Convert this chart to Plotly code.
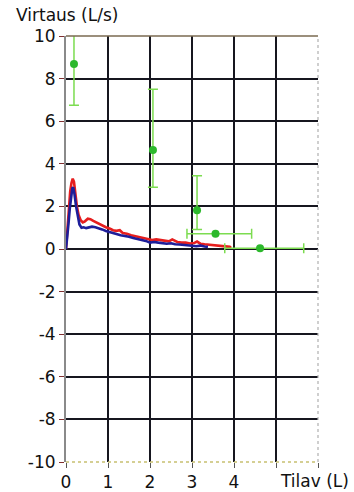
import plotly.graph_objects as go

# Measured flow-volume curves
red_x = [0.00, 0.02, 0.04, 0.07, 0.10, 0.13, 0.16, 0.19, 0.22, 0.26, 0.30, 0.35, 0.40, 0.45, 0.52,
         0.58, 0.65, 0.72, 0.80, 0.88, 0.95, 1.05, 1.12, 1.20, 1.28, 1.35, 1.45, 1.55, 1.65, 1.75,
         1.85, 1.95, 2.05, 2.15, 2.25, 2.35, 2.45, 2.53, 2.65, 2.75, 2.85, 2.95, 3.05, 3.12, 3.20,
         3.30, 3.40, 3.50, 3.60, 3.70, 3.80, 3.90, 3.93]
red_y = [0.00, 0.60, 1.40, 2.10, 2.70, 3.10, 3.30, 3.15, 2.60, 2.00, 1.60, 1.35, 1.25, 1.30, 1.42,
         1.40, 1.32, 1.25, 1.18, 1.08, 1.02, 0.95, 0.88, 0.85, 0.88, 0.75, 0.72, 0.65, 0.60, 0.55,
         0.50, 0.45, 0.42, 0.45, 0.42, 0.40, 0.36, 0.45, 0.33, 0.30, 0.30, 0.26, 0.28, 0.35, 0.25,
         0.22, 0.20, 0.18, 0.15, 0.14, 0.12, 0.10, 0.05]

blue_x = [0.00, 0.03, 0.06, 0.09, 0.12, 0.15, 0.17, 0.20, 0.24, 0.28, 0.32, 0.37, 0.42, 0.48, 0.55,
          0.62, 0.70, 0.78, 0.86, 0.95, 1.05, 1.12, 1.20, 1.30, 1.40, 1.50, 1.60, 1.70, 1.80, 1.90,
          2.00, 2.10, 2.20, 2.30, 2.40, 2.50, 2.60, 2.70, 2.80, 2.90, 3.00, 3.10, 3.20, 3.30, 3.38]
blue_y = [0.00, 0.50, 1.20, 1.90, 2.50, 2.85, 2.90, 2.60, 2.00, 1.50, 1.15, 1.00, 1.02, 0.98, 1.00,
          1.05, 1.02, 0.98, 0.92, 0.85, 0.78, 0.72, 0.70, 0.65, 0.62, 0.58, 0.52, 0.48, 0.42, 0.38,
          0.30, 0.33, 0.30, 0.28, 0.25, 0.27, 0.22, 0.21, 0.20, 0.18, 0.15, 0.13, 0.16, 0.12, 0.10]

# Reference points with error bars
ref_x = [0.19, 2.07, 3.12, 3.56, 4.62]
ref_y = [8.68, 4.65, 1.82, 0.72, 0.03]
ref_err_y_plus = [1.40, 2.85, 1.62]
ref_err_y_minus = [1.93, 1.75, 0.90]
ref_err_x_plus = [0.86, 1.04]
ref_err_x_minus = [0.68, 0.84]

y_ticks = [10, 8, 6, 4, 2, 0, -2, -4, -6, -8, -10]
y_tick_labels = ["10", "8", "6", "4", "2", "0", "-2", "-4", "-6", "-8", "-10"]
x_ticks = [0, 1, 2, 3, 4, 5, 6]
x_tick_labels = ["0", "1", "2", "3", "4", "", ""]

GREEN_BAR = "#7cdc50"
GREEN_DOT = "#2cb82c"
GRID = "#16161f"
FONT = "DejaVu Sans"

fig = go.Figure()
fig.add_trace(go.Scatter(x=red_x, y=red_y, mode="lines",
                         line=dict(color="#e61e1e", width=2.6), showlegend=False))
fig.add_trace(go.Scatter(x=blue_x, y=blue_y, mode="lines",
                         line=dict(color="#1e1e9a", width=2.6), showlegend=False))
fig.add_trace(go.Scatter(x=ref_x[:3], y=ref_y[:3], mode="markers",
                         marker=dict(color=GREEN_DOT, size=8),
                         error_y=dict(type="data", symmetric=False,
                                      array=ref_err_y_plus, arrayminus=ref_err_y_minus,
                                      color=GREEN_BAR, thickness=1.5, width=5),
                         showlegend=False))
fig.add_trace(go.Scatter(x=ref_x[3:], y=ref_y[3:], mode="markers",
                         marker=dict(color=GREEN_DOT, size=8),
                         error_x=dict(type="data", symmetric=False,
                                      array=ref_err_x_plus, arrayminus=ref_err_x_minus,
                                      color=GREEN_BAR, thickness=1.5, width=5),
                         showlegend=False))

fig.update_xaxes(range=[0, 6], tickvals=x_ticks, ticktext=x_tick_labels, automargin=False,
                 showgrid=True, gridcolor=GRID, gridwidth=1.6,
                 zeroline=False, showline=False,
                 ticks="outside", ticklen=5, tickcolor="#555", tickwidth=1,
                 tickfont=dict(family=FONT, size=17, color="#111"))
fig.update_yaxes(range=[-10, 10], tickvals=y_ticks, ticktext=y_tick_labels, automargin=False,
                 showgrid=True, gridcolor=GRID, gridwidth=1.6,
                 zeroline=True, zerolinecolor=GRID, zerolinewidth=1.6,
                 showline=True, linecolor="#8a8a8a", linewidth=2,
                 ticks="outside", ticklen=5, tickcolor="#803030", tickwidth=1,
                 tickfont=dict(family=FONT, size=17, color="#111"))

fig.update_layout(
    width=354, height=492,
    margin=dict(l=66, r=36, t=36, b=30),
    paper_bgcolor="white", plot_bgcolor="white",
    shapes=[
        dict(type="line", xref="paper", yref="paper", x0=0, x1=1, y0=1, y1=1,
             line=dict(color="#7a6a50", width=1.5), layer="above"),
        dict(type="line", xref="paper", yref="paper", x0=0, x1=1, y0=0, y1=0,
             line=dict(color="#c8c070", width=1.3, dash="dot"), layer="above"),
        dict(type="line", xref="paper", yref="paper", x0=1, x1=1, y0=0, y1=1,
             line=dict(color="#b0b0b0", width=1.2, dash="dot"), layer="above"),
    ],
    annotations=[
        dict(text="Virtaus (L/s)", xref="paper", yref="paper", x=-0.206, y=1.049,
             xanchor="left", yanchor="middle", showarrow=False,
             font=dict(family=FONT, size=17, color="#111")),
        dict(text="Tilav (L)", xref="paper", yref="paper", x=1.13, y=-0.045,
             xanchor="right", yanchor="middle", showarrow=False,
             font=dict(family=FONT, size=17, color="#111")),
    ],
)

fig.write_html("out.html", config={"displayModeBar": False},
               post_script="document.body.style.margin='0';document.body.style.overflow='hidden';")
